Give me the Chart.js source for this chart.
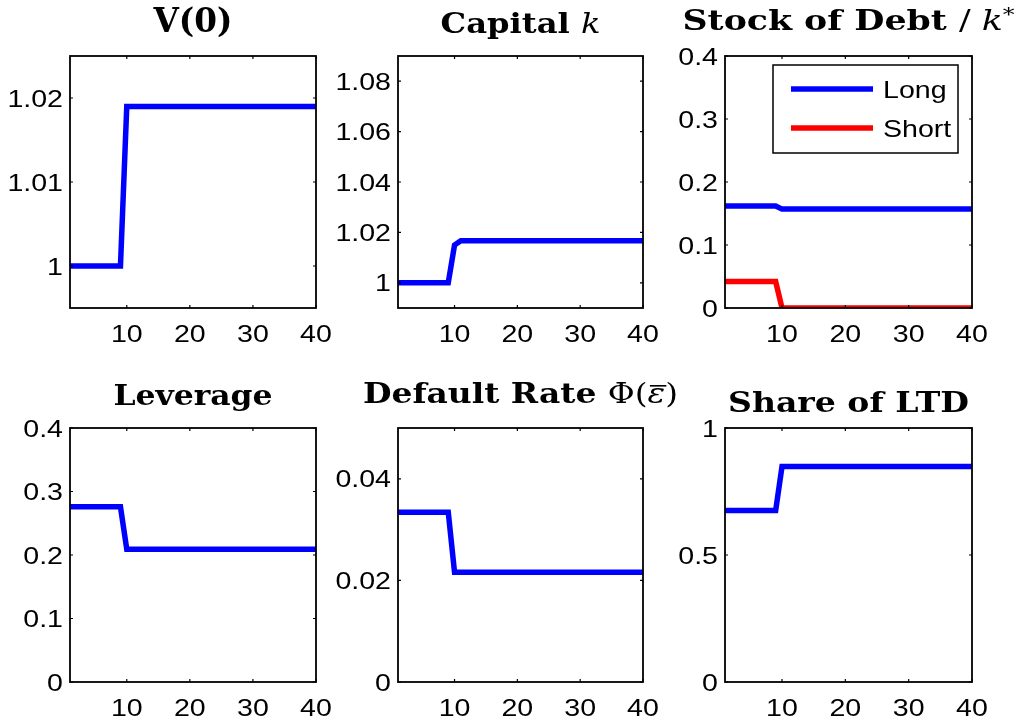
<!DOCTYPE html>
<html>
<head>
<meta charset="utf-8">
<script src="https://cdn.jsdelivr.net/npm/chart.js@4.4.0/dist/chart.umd.min.js"></script>
<style>
  html, body { margin: 0; padding: 0; background: #fff; overflow: hidden; }
  #fig { position: relative; width: 1017px; height: 724px; }
  canvas { position: absolute; }
</style>
</head>
<body>
<div id="fig"></div>
<script>
// x axis: periods 1..40
const periods = [
  1, 2, 3, 4, 5, 6, 7, 8, 9, 10,
  11, 12, 13, 14, 15, 16, 17, 18, 19, 20,
  21, 22, 23, 24, 25, 26, 27, 28, 29, 30,
  31, 32, 33, 34, 35, 36, 37, 38, 39, 40
];
const xTicks = [10, 20, 30, 40];

// series
const valueV0 = [
  1, 1, 1, 1, 1, 1, 1, 1, 1, 1.019,
  1.019, 1.019, 1.019, 1.019, 1.019, 1.019, 1.019, 1.019, 1.019, 1.019,
  1.019, 1.019, 1.019, 1.019, 1.019, 1.019, 1.019, 1.019, 1.019, 1.019,
  1.019, 1.019, 1.019, 1.019, 1.019, 1.019, 1.019, 1.019, 1.019, 1.019
];
const capitalK = [
  1, 1, 1, 1, 1, 1, 1, 1, 1, 1.015,
  1.0167, 1.0167, 1.0167, 1.0167, 1.0167, 1.0167, 1.0167, 1.0167, 1.0167, 1.0167,
  1.0167, 1.0167, 1.0167, 1.0167, 1.0167, 1.0167, 1.0167, 1.0167, 1.0167, 1.0167,
  1.0167, 1.0167, 1.0167, 1.0167, 1.0167, 1.0167, 1.0167, 1.0167, 1.0167, 1.0167
];
const debtLong = [
  0.162, 0.162, 0.162, 0.162, 0.162, 0.162, 0.162, 0.162, 0.162, 0.157,
  0.157, 0.157, 0.157, 0.157, 0.157, 0.157, 0.157, 0.157, 0.157, 0.157,
  0.157, 0.157, 0.157, 0.157, 0.157, 0.157, 0.157, 0.157, 0.157, 0.157,
  0.157, 0.157, 0.157, 0.157, 0.157, 0.157, 0.157, 0.157, 0.157, 0.157
];
const debtShort = [
  0.042, 0.042, 0.042, 0.042, 0.042, 0.042, 0.042, 0.042, 0.042, 0,
  0, 0, 0, 0, 0, 0, 0, 0, 0, 0,
  0, 0, 0, 0, 0, 0, 0, 0, 0, 0,
  0, 0, 0, 0, 0, 0, 0, 0, 0, 0
];
const leverage = [
  0.276, 0.276, 0.276, 0.276, 0.276, 0.276, 0.276, 0.276, 0.276, 0.209,
  0.209, 0.209, 0.209, 0.209, 0.209, 0.209, 0.209, 0.209, 0.209, 0.209,
  0.209, 0.209, 0.209, 0.209, 0.209, 0.209, 0.209, 0.209, 0.209, 0.209,
  0.209, 0.209, 0.209, 0.209, 0.209, 0.209, 0.209, 0.209, 0.209, 0.209
];
const defaultRate = [
  0.0334, 0.0334, 0.0334, 0.0334, 0.0334, 0.0334, 0.0334, 0.0334, 0.0334, 0.0216,
  0.0216, 0.0216, 0.0216, 0.0216, 0.0216, 0.0216, 0.0216, 0.0216, 0.0216, 0.0216,
  0.0216, 0.0216, 0.0216, 0.0216, 0.0216, 0.0216, 0.0216, 0.0216, 0.0216, 0.0216,
  0.0216, 0.0216, 0.0216, 0.0216, 0.0216, 0.0216, 0.0216, 0.0216, 0.0216, 0.0216
];
const shareLTD = [
  0.675, 0.675, 0.675, 0.675, 0.675, 0.675, 0.675, 0.675, 0.675, 0.848,
  0.848, 0.848, 0.848, 0.848, 0.848, 0.848, 0.848, 0.848, 0.848, 0.848,
  0.848, 0.848, 0.848, 0.848, 0.848, 0.848, 0.848, 0.848, 0.848, 0.848,
  0.848, 0.848, 0.848, 0.848, 0.848, 0.848, 0.848, 0.848, 0.848, 0.848
];

// y tick values per panel
const v0Ticks = [1, 1.01, 1.02];
const capitalTicks = [1, 1.02, 1.04, 1.06, 1.08];
const debtTicks = [0, 0.1, 0.2, 0.3, 0.4];
const leverageTicks = [0, 0.1, 0.2, 0.3, 0.4];
const defaultTicks = [0, 0.02, 0.04];
const shareTicks = [0, 0.5, 1];

const BLUE = '#0000ff';
const RED = '#ff0000';

// layout of the 2x3 grid (axes boxes, px)
const colLeft = [70, 398, 725];
const colWidth = [246, 245, 247];
const rowTop = [56, 428];
const rowHeight = [252, 254];
const PAD_L = 70, PAD_R = 46, PAD_T = 56, PAD_B = 40;

// Helvetica-like labels, a bit wider than Liberation Sans
const LABEL_FONT = '24px "Liberation Sans", Arial, sans-serif';
const LABEL_STRETCH = 1.19;
const B = 'bold 28px "DejaVu Serif"';
const R = '28px "DejaVu Serif"';
const I = 'italic 28px "DejaVu Serif"';

const panels = [
  { row: 0, col: 0, yMin: 0.995, yMax: 1.025, yTicks: v0Ticks,
    series: [{ label: 'V(0)', data: valueV0, color: BLUE }],
    title: [{ t: 'V(0)', f: 'bold 33px "DejaVu Serif"' }], titleWidth: 79, titleBase: 32 },
  { row: 0, col: 1, yMin: 0.99, yMax: 1.09, yTicks: capitalTicks,
    series: [{ label: 'Capital k', data: capitalK, color: BLUE }],
    title: [{ t: 'Capital ', f: B }, { t: 'k', f: I }], titleWidth: 160, titleBase: 33 },
  { row: 0, col: 2, yMin: 0, yMax: 0.4, yTicks: debtTicks, legend: true,
    series: [{ label: 'Long', data: debtLong, color: BLUE }, { label: 'Short', data: debtShort, color: RED }],
    title: [{ t: 'Stock of Debt ', f: B }, { t: '/ ', f: R }, { t: 'k', f: I }, { t: '*', f: '19px "DejaVu Serif"', dy: -9 }],
    titleWidth: 332, titleBase: 30 },
  { row: 1, col: 0, yMin: 0, yMax: 0.4, yTicks: leverageTicks,
    series: [{ label: 'Leverage', data: leverage, color: BLUE }],
    title: [{ t: 'Leverage', f: B }], titleWidth: 159, titleBase: 33 },
  { row: 1, col: 1, yMin: 0, yMax: 0.05, yTicks: defaultTicks,
    series: [{ label: 'Default Rate', data: defaultRate, color: BLUE }],
    title: [{ t: 'Default Rate ', f: B }, { t: '\u03A6(', f: R }, { t: '\u03B5', f: I, bar: true }, { t: ')', f: R }],
    titleWidth: 315, titleBase: 31 },
  { row: 1, col: 2, yMin: 0, yMax: 1, yTicks: shareTicks,
    series: [{ label: 'Share of LTD', data: shareLTD, color: BLUE }],
    title: [{ t: 'Share of LTD', f: B }], titleWidth: 241, titleBase: 40 }
];

function fmt(v) {
  return String(parseFloat(v.toFixed(4)));
}

function stretchedText(ctx, text, x, y, align) {
  ctx.save();
  ctx.translate(x, y);
  ctx.scale(LABEL_STRETCH, 1);
  ctx.textAlign = align;
  ctx.fillText(text, 0, 0);
  ctx.restore();
}

function makeChart(p) {
  const boxL = colLeft[p.col], boxW = colWidth[p.col];
  const boxT = rowTop[p.row], boxH = rowHeight[p.row];

  const canvas = document.createElement('canvas');
  const cw = PAD_L + boxW + PAD_R, ch = PAD_T + boxH + PAD_B;
  canvas.width = cw; canvas.height = ch;
  canvas.style.left = (boxL - PAD_L) + 'px';
  canvas.style.top = (boxT - PAD_T) + 'px';
  canvas.style.width = cw + 'px';
  canvas.style.height = ch + 'px';
  document.getElementById('fig').appendChild(canvas);

  // black box with inward ticks on all four sides, plus tick labels
  const framePlugin = {
    id: 'frame',
    afterDatasetsDraw(chart) {
      const a = chart.chartArea, ctx = chart.ctx;
      const xs = chart.scales.x, ys = chart.scales.y;
      ctx.save();
      ctx.strokeStyle = '#000';
      ctx.lineWidth = 1.8;
      ctx.strokeRect(a.left, a.top, a.right - a.left, a.bottom - a.top);
      ctx.lineWidth = 1.2;
      ctx.beginPath();
      xs.ticks.forEach(t => {
        const px = xs.getPixelForValue(t.value);
        ctx.moveTo(px, a.bottom); ctx.lineTo(px, a.bottom - 3);
        ctx.moveTo(px, a.top); ctx.lineTo(px, a.top + 3);
      });
      ys.ticks.forEach(t => {
        const py = ys.getPixelForValue(t.value);
        ctx.moveTo(a.left, py); ctx.lineTo(a.left + 3, py);
        ctx.moveTo(a.right, py); ctx.lineTo(a.right - 3, py);
      });
      ctx.stroke();

      ctx.fillStyle = '#000';
      ctx.font = LABEL_FONT;
      ctx.textBaseline = 'alphabetic';
      xs.ticks.forEach(t => {
        stretchedText(ctx, fmt(t.value), xs.getPixelForValue(t.value), a.bottom + 34, 'center');
      });
      ys.ticks.forEach(t => {
        stretchedText(ctx, fmt(t.value), a.left - 7, ys.getPixelForValue(t.value) + 8.6, 'right');
      });
      ctx.restore();
    }
  };

  // title made of mixed-font pieces, stretched to the reference width
  const titlePlugin = {
    id: 'mixedTitle',
    afterDraw(chart) {
      const a = chart.chartArea, ctx = chart.ctx;
      ctx.save();
      let natural = 0;
      p.title.forEach(s => { ctx.font = s.f; natural += ctx.measureText(s.t).width; });
      const sx = p.titleWidth / natural;
      const cx = (a.left + a.right) / 2;
      ctx.translate(cx - p.titleWidth / 2, p.titleBase);
      ctx.scale(sx, 1);
      ctx.fillStyle = '#000';
      ctx.textBaseline = 'alphabetic';
      ctx.textAlign = 'left';
      let x = 0;
      p.title.forEach(s => {
        ctx.font = s.f;
        const w = ctx.measureText(s.t).width;
        ctx.fillText(s.t, x, s.dy || 0);
        if (s.bar) {
          ctx.fillRect(x + 2, -18, w - 1, 1.6);
        }
        x += w;
      });
      ctx.restore();
    }
  };

  const legendPlugin = {
    id: 'boxLegend',
    afterDraw(chart) {
      if (!p.legend) return;
      const a = chart.chartArea, ctx = chart.ctx;
      const w = 185, h = 88;
      const x0 = a.right - 14 - w, y0 = a.top + 9;
      ctx.save();
      ctx.fillStyle = '#fff';
      ctx.fillRect(x0, y0, w, h);
      ctx.strokeStyle = '#000';
      ctx.lineWidth = 1.5;
      ctx.strokeRect(x0, y0, w, h);
      chart.data.datasets.forEach((ds, i) => {
        const y = y0 + 24 + i * 39;
        ctx.strokeStyle = ds.borderColor;
        ctx.lineWidth = 5.5;
        ctx.beginPath();
        ctx.moveTo(x0 + 18, y);
        ctx.lineTo(x0 + 100, y);
        ctx.stroke();
        ctx.fillStyle = '#000';
        ctx.font = LABEL_FONT;
        ctx.textBaseline = 'alphabetic';
        stretchedText(ctx, ds.label, x0 + 110, y + 9, 'left');
      });
      ctx.restore();
    }
  };

  new Chart(canvas.getContext('2d'), {
    type: 'line',
    data: {
      datasets: p.series.map(s => ({
        label: s.label,
        data: periods.map((x, i) => ({ x: x, y: s.data[i] })),
        borderColor: s.color,
        backgroundColor: s.color,
        borderWidth: 5.5,
        pointRadius: 0,
        tension: 0,
        fill: false
      }))
    },
    options: {
      responsive: false,
      animation: false,
      events: [],
      layout: { padding: { top: PAD_T, right: PAD_R, left: 0, bottom: 0 } },
      plugins: {
        legend: { display: false },
        tooltip: { enabled: false },
        title: { display: false }
      },
      scales: {
        x: {
          type: 'linear', min: 1, max: 40,
          afterBuildTicks: s => { s.ticks = xTicks.map(v => ({ value: v })); },
          afterFit: s => { s.height = PAD_B; },
          grid: { display: false, drawTicks: false },
          border: { display: false },
          ticks: { display: false, autoSkip: false }
        },
        y: {
          type: 'linear', min: p.yMin, max: p.yMax,
          afterBuildTicks: s => { s.ticks = p.yTicks.map(v => ({ value: v })); },
          afterFit: s => { s.width = PAD_L; },
          grid: { display: false, drawTicks: false },
          border: { display: false },
          ticks: { display: false, autoSkip: false }
        }
      }
    },
    plugins: [framePlugin, titlePlugin, legendPlugin]
  });
}

panels.forEach(makeChart);
</script>
</body>
</html>
